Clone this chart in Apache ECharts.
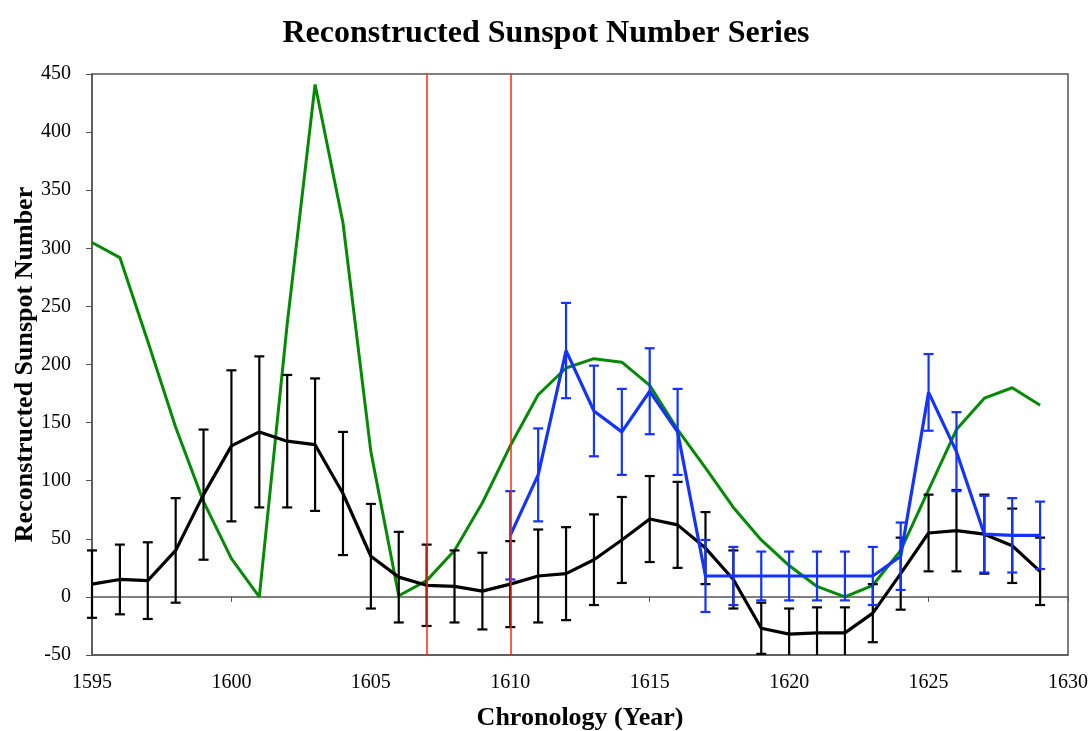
<!DOCTYPE html>
<html>
<head>
<meta charset="utf-8">
<script src="https://cdn.jsdelivr.net/npm/echarts@6/dist/echarts.min.js"></script>
<style>
  html, body { margin: 0; padding: 0; background: #fff; }
  #chart { width: 1092px; height: 731px; }
</style>
</head>
<body>
<div id="chart"></div>
<script>
// years for black and green series
const years = [1595, 1596, 1597, 1598, 1599, 1600, 1601, 1602, 1603, 1604,
  1605, 1606, 1607, 1608, 1609, 1610, 1611, 1612, 1613, 1614,
  1615, 1616, 1617, 1618, 1619, 1620, 1621, 1622, 1623, 1624,
  1625, 1626, 1627, 1628, 1629];
const blackVals = [11, 15, 14, 40, 88, 130, 142, 134, 131, 89,
  35, 17, 10, 9, 5, 11, 18, 20, 32, 49,
  67, 62, 42, 15, -27, -32, -31, -31, -14, 20,
  55, 57, 54, 44, 22];
const blackErr = [29, 30, 33, 45, 56, 65, 65, 57, 57, 53,
  45, 39, 35, 31, 33, 37, 40, 40, 39, 37,
  37, 37, 31, 25, 22, 22, 22, 22, 25, 31,
  33, 35, 34, 32, 29];
const greenVals = [305, 292, 220, 146, 82, 33, 0, 235, 441, 322,
  125, 1, 14, 40, 81, 130, 174, 197, 205, 202,
  182, 144, 111, 77, 49, 27, 9, 0, 10, 40,
  92, 144, 171, 180, 165];
// blue series 1610-1629
const blueYears = [1610, 1611, 1612, 1613, 1614, 1615, 1616, 1617, 1618, 1619,
  1620, 1621, 1622, 1623, 1624, 1625, 1626, 1627, 1628, 1629];
const blueVals = [53, 105, 212, 160, 142, 177, 142, 18, 18, 18,
  18, 18, 18, 18, 35, 176, 125, 54, 53, 53];
const blueErr = [38, 40, 41, 39, 37, 37, 37, 31, 25, 21,
  21, 21, 21, 25, 29, 33, 34, 33, 32, 29];
const redYears = [1607, 1610];

const serif = '"Liberation Serif", "DejaVu Serif", serif';

function pairs(xs, ys) {
  return xs.map((x, i) => [x, ys[i]]);
}
function errData(xs, ys, es) {
  return xs.map((x, i) => [x, ys[i] - es[i], ys[i] + es[i]]);
}
function errorBars(color) {
  return function (params, api) {
    const cs = params.coordSys;
    const yMin = cs.y, yMax = cs.y + cs.height;
    const lo = api.coord([api.value(0), api.value(1)]);
    const hi = api.coord([api.value(0), api.value(2)]);
    const w = 5;
    const style = { stroke: color, lineWidth: 2.2 };
    const loY = Math.min(lo[1], yMax), hiY = Math.max(hi[1], yMin);
    const kids = [
      { type: 'line', shape: { x1: lo[0], y1: loY, x2: hi[0], y2: hiY }, style: style }
    ];
    if (lo[1] <= yMax) {
      kids.push({ type: 'line', shape: { x1: lo[0] - w, y1: lo[1], x2: lo[0] + w, y2: lo[1] }, style: style });
    }
    if (hi[1] >= yMin) {
      kids.push({ type: 'line', shape: { x1: hi[0] - w, y1: hi[1], x2: hi[0] + w, y2: hi[1] }, style: style });
    }
    return { type: 'group', children: kids };
  };
}

const chart = echarts.init(document.getElementById('chart'));
chart.setOption({
  animation: false,
  title: {
    text: 'Reconstructed Sunspot Number Series',
    left: 'center',
    top: 13,
    textStyle: { fontFamily: serif, fontSize: 32, fontWeight: 'bold', color: '#000' }
  },
  grid: {
    left: 92, right: 24, top: 74, bottom: 76,
    outerBoundsMode: 'none',
    containLabel: false,
    show: true, borderColor: '#555', borderWidth: 1.5, backgroundColor: 'transparent'
  },
  xAxis: [
    {
      type: 'value', min: 1595, max: 1630, interval: 5,
      axisLine: { show: true, onZero: false, lineStyle: { color: '#555', width: 1.5 } },
      axisTick: { show: false },
      splitLine: { show: false },
      axisLabel: { fontFamily: serif, fontSize: 20, color: '#000', margin: 18, formatter: v => String(v) },
      name: 'Chronology (Year)',
      nameLocation: 'middle',
      nameGap: 50,
      nameMoveOverlap: false,
      nameTextStyle: { fontFamily: serif, fontSize: 26, fontWeight: 'bold', color: '#000' }
    },
    {
      type: 'value', min: 1595, max: 1630, interval: 5, position: 'top',
      axisLine: { show: true, onZero: true, lineStyle: { color: '#555', width: 1.5 } },
      axisTick: { show: true, inside: true, length: 5, lineStyle: { color: '#555' } },
      axisLabel: { show: false },
      splitLine: { show: false }
    }
  ],
  yAxis: {
    type: 'value', min: -50, max: 450, interval: 50,
    axisLine: { show: true, lineStyle: { color: '#555', width: 1.5 } },
    axisTick: { show: true, length: 6, lineStyle: { color: '#555' } },
    splitLine: { show: false },
    axisLabel: { fontFamily: serif, fontSize: 20, color: '#000', margin: 21 },
    name: 'Reconstructed Sunspot Number',
    nameLocation: 'middle',
    nameGap: 54,
    nameMoveOverlap: false,
    nameTextStyle: { fontFamily: serif, fontSize: 26, fontWeight: 'bold', color: '#000' }
  },
  series: [
    {
      name: 'limits',
      type: 'line',
      data: [],
      markLine: {
        silent: true,
        symbol: 'none',
        label: { show: false },
        lineStyle: { color: '#ff2a0a', width: 1.5, type: 'solid' },
        data: redYears.map(y => ({ xAxis: y }))
      }
    },
    {
      name: 'green',
      type: 'line',
      data: pairs(years, greenVals),
      symbol: 'none',
      lineStyle: { color: '#058a05', width: 3 },
      z: 2
    },
    {
      name: 'black err',
      type: 'custom',
      renderItem: errorBars('#000'),
      data: errData(years, blackVals, blackErr),
      encode: { x: 0, y: [1, 2] },
      clip: false,
      z: 3
    },
    {
      name: 'black',
      type: 'line',
      data: pairs(years, blackVals),
      symbol: 'none',
      lineStyle: { color: '#000', width: 3.2 },
      z: 3
    },
    {
      name: 'blue err',
      type: 'custom',
      renderItem: errorBars('#1433ff'),
      data: errData(blueYears, blueVals, blueErr),
      encode: { x: 0, y: [1, 2] },
      clip: false,
      z: 4
    },
    {
      name: 'blue',
      type: 'line',
      data: pairs(blueYears, blueVals),
      symbol: 'none',
      lineStyle: { color: '#1433ff', width: 3.2 },
      z: 4
    }
  ]
});
</script>
</body>
</html>
